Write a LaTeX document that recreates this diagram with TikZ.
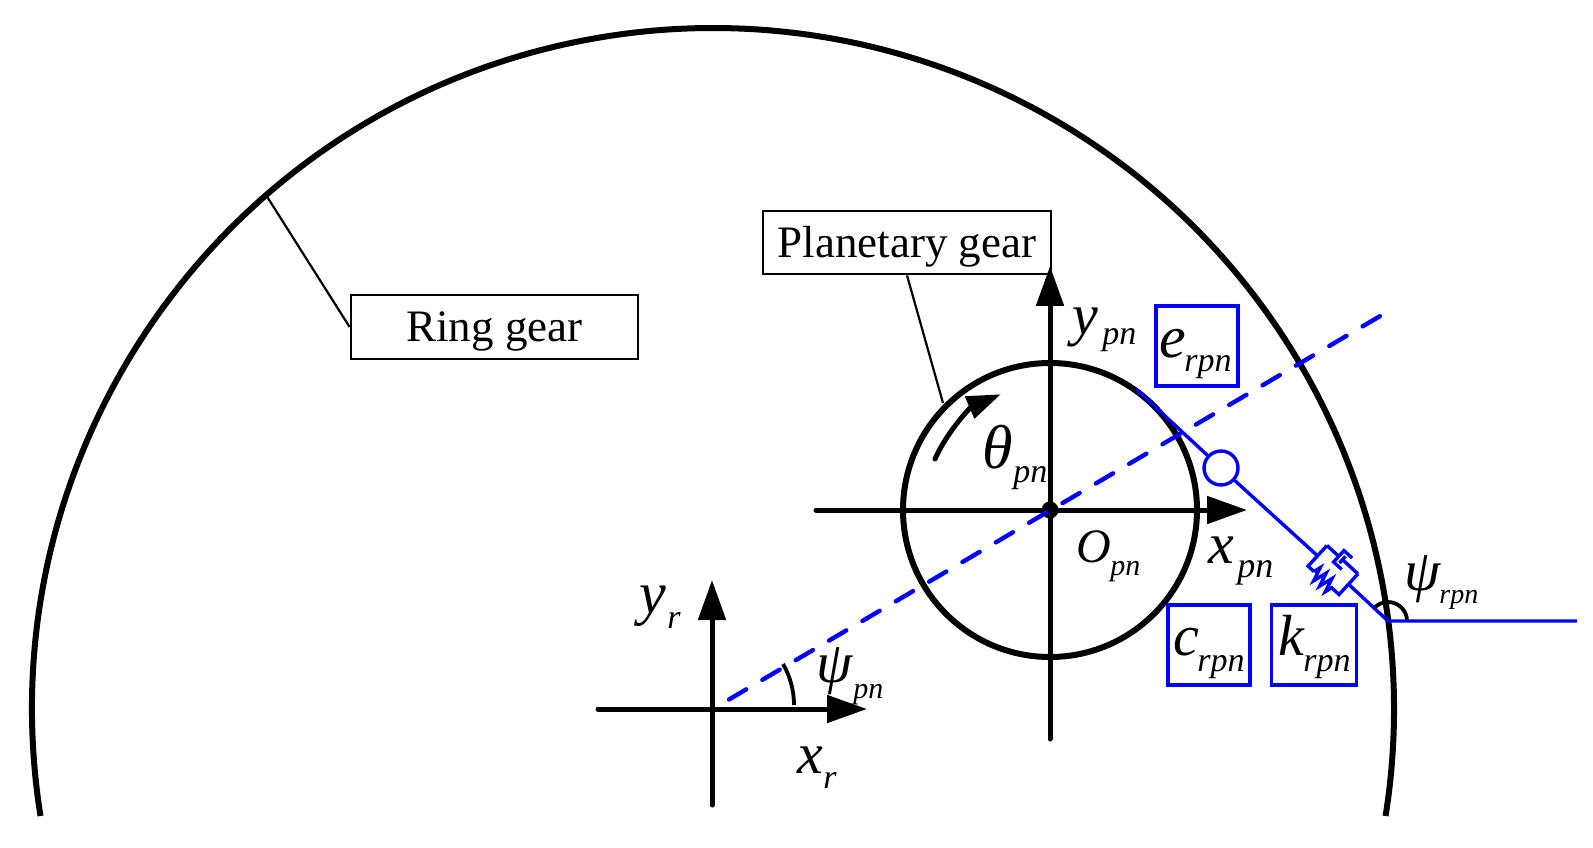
\documentclass[tikz,border=0pt]{standalone}
\usepackage{fontspec}
\setmainfont{Liberation Serif}
\usetikzlibrary{arrows.meta,decorations.pathmorphing}
\newlength\pxlen
\setlength\pxlen{0.5pt}
\newcommand{\subsym}[6]{{\fontsize{#1}{#1}\selectfont\makebox[#3\pxlen][l]{#2}\raisebox{-#4\pxlen}{\fontsize{#5}{#5}\selectfont #6}}}
\tikzset{
  axisline/.style={line width=2.5pt, line cap=round, -{Triangle[length=20pt,width=13.5pt]}},
  gearline/.style={line width=3pt},
  leader/.style={line width=1.1pt},
  labelbox/.style={draw, line width=1.4pt, inner sep=0pt, text height=20pt, text depth=5pt, font=\fontsize{22.5}{22.5}\selectfont},
  bluebox/.style={draw=blue, line width=1.7pt, inner sep=0pt, minimum width=41pt, minimum height=40pt},
  blueline/.style={blue, line width=1.7pt},
  symb/.style={anchor=base west, inner sep=0pt, font=\itshape},
}
\begin{document}
\begin{tikzpicture}[x=0.5pt,y=0.5pt]
    \useasboundingbox (0,0) rectangle (1593,847);
    %%Ring gear
    \draw[gearline] (40.5,31) arc (189.04:-9.04:681);
    \node[labelbox, minimum width=143.5pt, minimum height=32pt] (ringlabel) at (494.5,520) {Ring gear};
    \coordinate (ringfoot) at (266,652);
    \draw[leader] (ringlabel.west) -- (ringfoot);
    %%Planetary gear
    \node[circle, draw, gearline, inner sep=0pt, minimum size=147pt] (planet) at (1050,337) {};
    \node[labelbox, minimum width=144pt, minimum height=31.5pt] (planetlabel) at (907,604.5) {Planetary gear};
    \coordinate (planetfoot) at (943,444);
    \draw[leader] (planetlabel.south) -- (planetfoot);
    %%Axes
    \coordinate (xpnfrom) at (816,337);
    \coordinate (xpnto) at (1247,337);
    \coordinate (ypnfrom) at (1050,108);
    \coordinate (ypnto) at (1050,581);
    \coordinate (xrfrom) at (598,138);
    \coordinate (xrto) at (867,138);
    \coordinate (yrfrom) at (712,42);
    \coordinate (yrto) at (712,267);
    \draw[axisline] (xpnfrom) -- (xpnto);
    \draw[axisline] (ypnfrom) -- (ypnto);
    \draw[axisline] (xrfrom) -- (xrto);
    \draw[axisline] (yrfrom) -- (yrto);
    \node[circle, fill=black, inner sep=0pt, minimum size=8.5pt] (pncentre) at (1050,337) {};
    \draw[axisline, -{Triangle[length=17pt,width=11.5pt]}] (935,388) arc (156:113:126);
    %%Angles
    \draw[line width=1.9pt] (794,142) arc (0:30:82);
    \draw[line width=1.9pt] (1407,226) arc (0:137:19);
    %%Centre line
    \coordinate (dashfrom) at (729,147.5);
    \coordinate (dashto) at (1387,535);
    \draw[blue, line width=2.2pt, line cap=round, dash pattern=on 10pt off 9.35pt] (dashfrom) -- (dashto);
    %%Mesh line
    \coordinate (meshfrom) at (1136,458);
    \coordinate (meshto) at (1388,226);
    \coordinate (meshend) at (1577,226);
    \node[circle, draw=blue, line width=1.7pt, fill=white, inner sep=0pt, minimum size=17pt] (roller) at (1221,379) {};
    \draw[blueline] (meshfrom) -- (roller);
    \begin{scope}[shift={(1333,277)}, rotate=-42.5, blueline]
        \coordinate (damperin) at (-21,0);
        \coordinate (damperout) at (21,0);
        \draw (-21,14) -- (-21,-14) -- (-13,-14);
        \draw[decorate, decoration={zigzag, amplitude=3.5pt, segment length=4pt}] (-13,-14) -- (13,-14);
        \draw (13,-14) -- (21,-14) -- (21,14);
        \draw (-21,14) -- (-5,14);
        \draw (6,21.7) -- (-5,21.7) -- (-5,6.3) -- (6,6.3);
        \draw (0,9.5) -- (0,18.5) (0,14) -- (21,14);
    \end{scope}
    \draw[blueline] (roller) -- (damperin);
    \draw[blueline] (damperout) -- (meshto) -- (meshend);
    %%Parameter boxes
    \node[bluebox] (ebox) at (1197,501) {};
    \node[bluebox] (cbox) at (1209,202) {};
    \node[bluebox, minimum width=42.5pt] (kbox) at (1314,202) {};
    %%Symbols
    \node[symb] (yrlabel) at (639,234) {\subsym{30}{y}{28}{15}{17}{r}};
    \node[symb] (xrlabel) at (797,74) {\subsym{29}{x}{26}{15}{17}{r}};
    \node[symb] (psipn) at (816,165) {\subsym{29}{ψ}{37}{16}{15}{pn}};
    \node[symb] (thetapn) at (982,379) {\subsym{31}{θ}{31}{14}{17}{pn}};
    \node[symb] (opn) at (1076,285) {\subsym{24}{O}{34}{13}{15}{pn}};
    \node[symb] (xpn) at (1208,284) {\subsym{29}{x}{29}{14}{18}{pn}};
    \node[symb] (ypn) at (1072,512) {\subsym{29}{y}{30}{10}{17}{pn}};
    \node[symb] (erpn) at (1159,489) {\subsym{30}{e}{25}{13}{17}{rpn}};
    \node[symb] (crpn) at (1173,192) {\subsym{29}{c}{24}{16}{17}{rpn}};
    \node[symb] (krpn) at (1278,192) {\subsym{29}{k}{25}{16}{17}{rpn}};
    \node[symb] (psirpn) at (1404,257) {\subsym{29}{ψ}{35}{13}{14}{rpn}};
\end{tikzpicture}
\end{document}
